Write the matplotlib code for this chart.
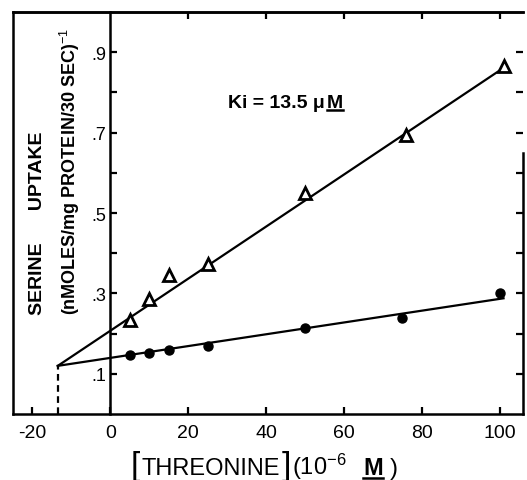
import matplotlib
matplotlib.use('Agg')
import matplotlib.pyplot as plt
from matplotlib.offsetbox import TextArea, HPacker, AnchoredOffsetbox
from matplotlib.lines import Line2D

plt.rcParams['font.family'] = ['Liberation Sans', 'DejaVu Sans']
plt.rcParams['mathtext.fontset'] = 'custom'
plt.rcParams['mathtext.rm'] = 'Liberation Sans'
plt.rcParams['mathtext.it'] = 'Liberation Sans:italic'
plt.rcParams['mathtext.bf'] = 'Liberation Sans:bold'

# Data
tri_x = [5, 10, 15, 25, 50, 76, 101]
tri_y = [0.235, 0.286, 0.346, 0.373, 0.551, 0.693, 0.865]
circ_x = [5, 10, 15, 25, 50, 75, 100]
circ_y = [0.147, 0.153, 0.160, 0.170, 0.213, 0.240, 0.302]
fit_x = [-13.5, 101]
tri_fit_y = [0.120, 0.861]
circ_fit_y = [0.120, 0.288]
ki_x = [-13.5, -13.5]
ki_y = [0.0, 0.120]
x_ticks = [-20, 0, 20, 40, 60, 80, 100]
top_ticks = [20, 40, 60, 80, 100]
y_ticks = [0.1, 0.2, 0.3, 0.4, 0.5, 0.6, 0.7, 0.8, 0.9]
y_tick_labels = ['.1', '', '.3', '', '.5', '', '.7', '', '.9']

fig = plt.figure(figsize=(5.27, 4.81), dpi=100)
ax = fig.add_axes([0.0247, 0.137, 0.9677, 0.836])
ax.set_xlim(-25, 106)
ax.set_ylim(0, 1.0)

ax.plot(fit_x, tri_fit_y, color='black', lw=1.6, zorder=2)
ax.plot(fit_x, circ_fit_y, color='black', lw=1.6, zorder=2)
ax.plot(ki_x, ki_y, color='black', lw=1.6, ls=(0, (3, 2)), zorder=2)
ax.plot(tri_x, tri_y, ls='none', marker='^', ms=8.5, mfc='white', mec='black',
        mew=2.0, zorder=3)
ax.plot(circ_x, circ_y, ls='none', marker='o', ms=6.5, mfc='black', mec='black',
        zorder=3)

# spines
for s in ax.spines.values():
    s.set_linewidth(1.8)
ax.spines['left'].set_position(('data', 0))
ax.spines['right'].set_bounds(0, 0.65)
ax.axvline(-25, color='black', lw=1.8, clip_on=False)

ax.set_xticks(x_ticks)
ax.set_xticklabels([str(v) for v in x_ticks], fontsize=14)
ax.set_yticks(y_ticks)
ax.set_yticklabels(y_tick_labels, fontsize=13)
ax.tick_params(axis='x', direction='in', top=False, bottom=True, length=5,
               width=1.6, pad=7)
ax.tick_params(axis='y', direction='in', left=True, right=True, length=5,
               width=1.6, pad=3)

secax = ax.secondary_xaxis('top')
secax.set_xticks(top_ticks)
secax.set_xticklabels([])
secax.tick_params(direction='in', length=5, width=1.6)
secax.spines['top'].set_linewidth(1.8)

ax.text(-18.7, 0.248, 'SERINE      UPTAKE', rotation=90, ha='center', va='bottom',
        fontsize=14, fontweight='bold')
ax.text(-10.3, 0.248, r'(nMOLES/mg PROTEIN/30 SEC)$^{-1}$', rotation=90,
        ha='center', va='bottom', fontsize=13, fontweight='bold')

underlined = []

# Ki annotation
ki_parts = [TextArea('Ki = 13.5 \u03bc', textprops=dict(fontsize=14, fontweight='bold')),
            TextArea('M', textprops=dict(fontsize=14, fontweight='bold'))]
underlined.append(ki_parts[1])
ki_box = AnchoredOffsetbox(loc='center', child=HPacker(children=ki_parts, align='baseline', pad=0, sep=1),
                           frameon=False, pad=0, borderpad=0,
                           bbox_to_anchor=(45, 0.775), bbox_transform=ax.transData)
ax.add_artist(ki_box)

# x label
xl_parts = [TextArea('[', textprops=dict(fontsize=24)),
            TextArea('THREONINE', textprops=dict(fontsize=17)),
            TextArea(']', textprops=dict(fontsize=24)),
            TextArea(r'(10$^{-6}$', textprops=dict(fontsize=17)),
            TextArea('  ', textprops=dict(fontsize=17)),
            TextArea('M', textprops=dict(fontsize=17, fontweight='bold')),
            TextArea(' ', textprops=dict(fontsize=12)),
            TextArea(')', textprops=dict(fontsize=17))]
underlined.append(xl_parts[5])
xl_pack = HPacker(children=xl_parts, align='baseline', pad=0, sep=1)
xl_box = AnchoredOffsetbox(loc='center', child=xl_pack,
                           frameon=False, pad=0, borderpad=0,
                           bbox_to_anchor=(0.502, 0.030), bbox_transform=fig.transFigure)
fig.add_artist(xl_box)

# first save to fix the layout, then measure and add underlines
fig.savefig('out.png', dpi=100)
renderer = fig.canvas.get_renderer()
for ta in underlined:
    bb = ta.get_window_extent(renderer)
    (x0, y0), (x1, _) = fig.transFigure.inverted().transform([[bb.x0, bb.y0], [bb.x1, bb.y1]])
    fig.add_artist(Line2D([x0, x1], [y0 + 0.002, y0 + 0.002], color='black', lw=1.8,
                          transform=fig.transFigure))

fig.savefig('out.png', dpi=100)
